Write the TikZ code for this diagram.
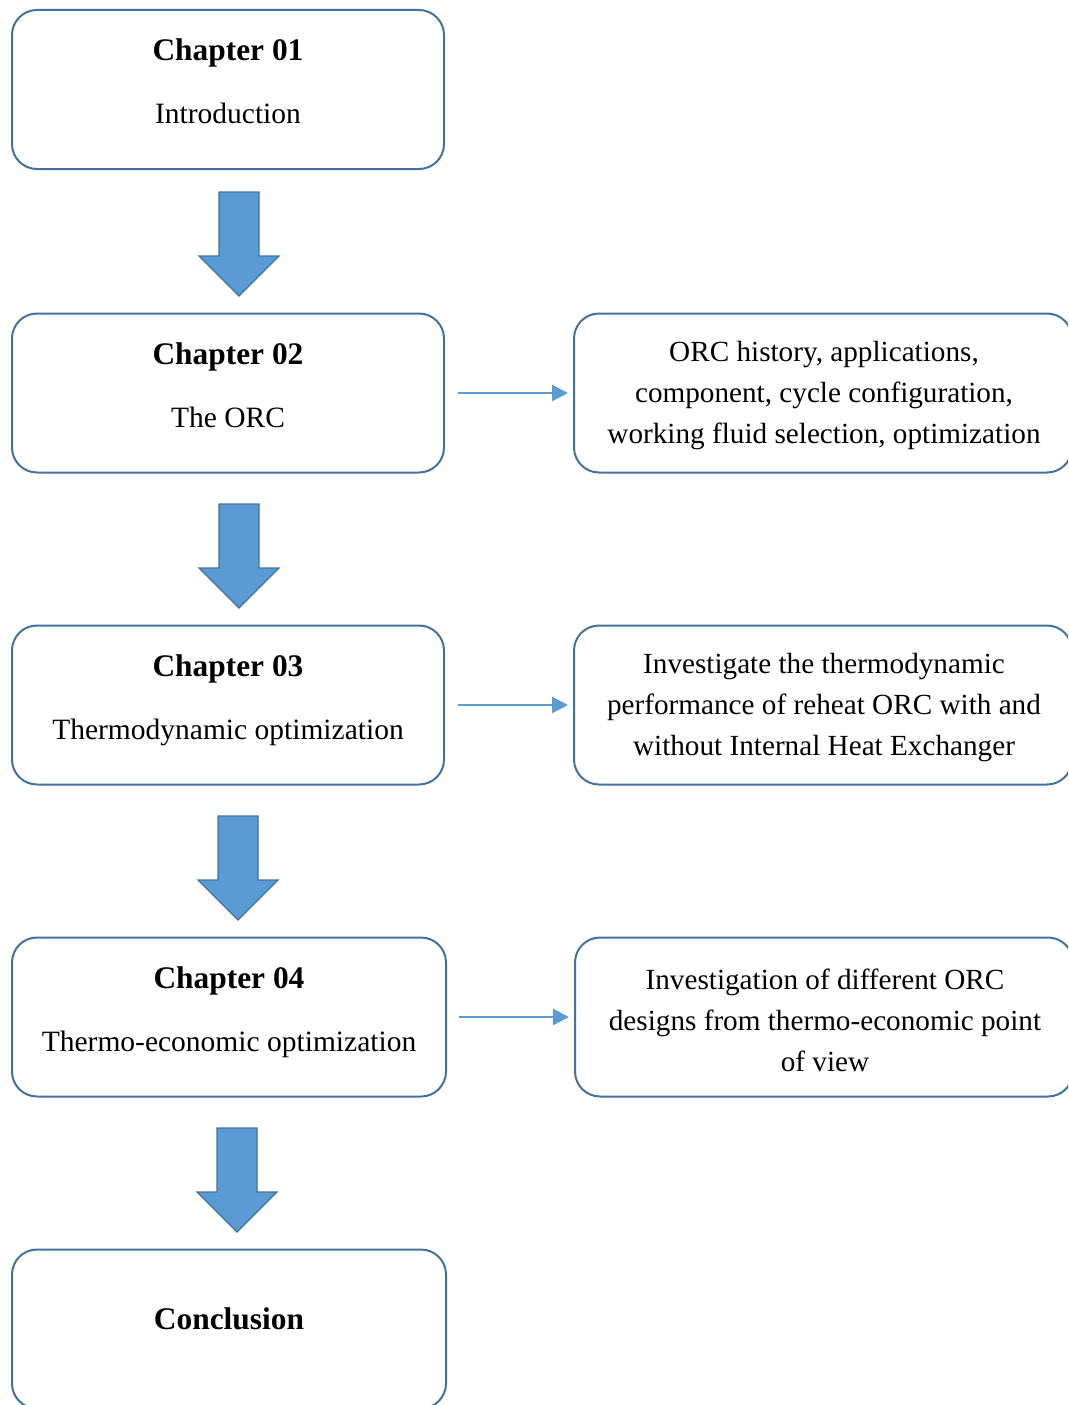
\documentclass[tikz,border=0pt]{standalone}
\usepackage{fontspec}
\setmainfont{Liberation Serif}
\usetikzlibrary{arrows.meta,calc}
\definecolor{boxline}{HTML}{41719C}
\definecolor{arrowfill}{HTML}{5B9BD5}
\tikzset{
  chapbox/.style={draw=boxline,line width=2pt,rounded corners=25pt,minimum width=432pt,minimum height=159pt,inner sep=0pt},
  descbox/.style={draw=boxline,line width=2pt,rounded corners=25pt,minimum width=498pt,minimum height=159pt,inner sep=0pt},
  titletext/.style={anchor=base,inner sep=0pt,font=\fontsize{31.4}{36}\selectfont\bfseries},
  subtext/.style={anchor=base,inner sep=0pt,font=\fontsize{29.5}{36}\selectfont},
  desctext/.style={align=center,inner sep=0pt,font=\fontsize{29.2}{41}\selectfont},
  bigarrow/.style={fill=arrowfill,draw=boxline,line width=1.2pt,line join=miter},
  link/.style={draw=arrowfill,line width=2.3pt,-{Triangle[length=16pt,width=16pt]}}
}
\begin{document}
\begin{tikzpicture}[x=1pt,y=-1pt]
\useasboundingbox (0,0) rectangle (1068,1405);
\clip (0,0) rectangle (1068,1405);

% chapter boxes
\node[chapbox] (c1) at (228,89.5) {};
\node[chapbox] (c2) at (228,393) {};
\node[chapbox] (c3) at (228,705) {};
\node[chapbox,minimum width=434pt] (c4) at (229,1017) {};
\node[chapbox,minimum width=434pt] (c5) at (229,1329) {};

\node[titletext] (t1) at (228,60) {Chapter 01};
\node[subtext] (s1) at (228,123) {Introduction};
\node[titletext] (t2) at (228,364) {Chapter 02};
\node[subtext] (s2) at (228,427) {The ORC};
\node[titletext] (t3) at (228,676) {Chapter 03};
\node[subtext] (s3) at (228,739) {Thermodynamic optimization};
\node[titletext] (t4) at (229,988) {Chapter 04};
\node[subtext] (s4) at (229,1051) {Thermo-economic optimization};
\node[titletext] (t5) at (229,1329) {Conclusion};

% description boxes
\node[descbox] (d2) at (823,393) {};
\node[descbox] (d3) at (823,705) {};
\node[descbox] (d4) at (824,1017) {};
\node[desctext] (e2) at (824,396) {ORC history, applications,\\component, cycle configuration,\\working fluid selection, optimization};
\node[desctext] (e3) at (824,708) {Investigate the thermodynamic\\performance of reheat ORC with and\\without Internal Heat Exchanger};
\node[desctext] (e4) at (825,1020) {Investigation of different ORC\\designs from thermo-economic point\\of view};

% thin arrows
\draw[link,shorten <=13pt,shorten >=5pt] (c2.east) -- (d2.west);
\draw[link,shorten <=13pt,shorten >=5pt] (c3.east) -- (d3.west);
\draw[link,shorten <=12pt,shorten >=5pt] (c4.east) -- (d4.west);

% block arrows
\coordinate (a1) at (239,192);
\coordinate (a2) at (239,504);
\coordinate (a3) at (238,816);
\coordinate (a4) at (237,1128);
\foreach \a in {a1,a2,a3,a4}{
  \draw[bigarrow] (\a) ++(-20,0) -- ++(40,0) -- ++(0,64) -- ++(20,0) -- ++(-40,40) -- ++(-40,-40) -- ++(20,0) -- cycle;
}
\end{tikzpicture}
\end{document}
